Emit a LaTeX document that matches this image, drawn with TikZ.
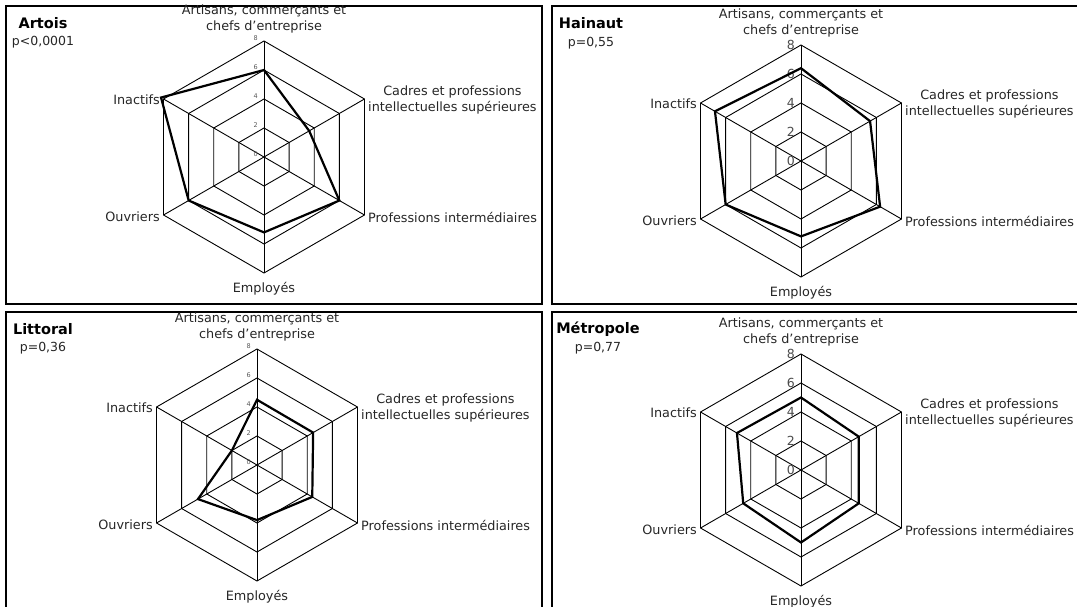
\documentclass[tikz,border=0pt]{standalone}
\usepackage{fontspec}
\setmainfont{DejaVu Sans}

% One radar chart: #1,#2 centre, #3 name prefix, #4..#9 values on the six axes
\newcommand\radarpanel[9]{%
\begin{scope}[shift={(#1,#2)}]
  \foreach \k in {29,58,87,116}
    \draw[webline] (270:\k) -- (330:\k) -- (30:\k) -- (90:\k) -- (150:\k) -- (210:\k) -- cycle;
  \coordinate (#3-o) at (0,0);
  \foreach \a/\n in {270/va,330/vb,30/vc,90/vd,150/ve,210/vf}
    \draw[webline] (#3-o) -- (\a:116) coordinate (#3-\n);
  \foreach \v/\k in {0/0,2/29,4/58,6/87,8/116}
    \node[ticknum] (#3-t\v) at (-6,-\k) {\v};
  \draw[series] (270:{14.5*#4}) -- (330:{14.5*#5}) -- (30:{14.5*#6})
    -- (90:{14.5*#7}) -- (150:{14.5*#8}) -- (210:{14.5*#9}) -- cycle;
  \node[axislabel] (#3-art) at (0,-138) {Artisans, commerçants et\\chefs d'entreprise};
  \node[axislabel,anchor=west] (#3-cad) at (104,-57) {Cadres et professions\\intellectuelles supérieures};
  \node[axislabel,anchor=west] (#3-pro) at (104,60) {Professions intermédiaires};
  \node[axislabel] (#3-emp) at (0,132) {Employés};
  \node[axislabel,anchor=east] (#3-ouv) at (-104,60) {Ouvriers};
  \node[axislabel,anchor=east] (#3-ina) at (-104,-57) {Inactifs};
\end{scope}}

\begin{document}
\begin{tikzpicture}[x=1pt,y=-1pt,
  webline/.style={line width=0.9pt,black},
  series/.style={line width=2.2pt,black,line join=miter},
  frame/.style={line width=1.4pt,black},
  axislabel/.style={font=\fontsize{12.8}{16}\selectfont,inner sep=0pt,align=center,text=black!85},
  regiontitle/.style={font=\fontsize{14.5}{18}\selectfont\bfseries,inner sep=0pt,text=black},
  pvalue/.style={font=\fontsize{12.5}{15}\selectfont,inner sep=0pt,text=black!85},
  smalltick/.style={ticknum/.style={font=\fontsize{6.5}{8}\selectfont,inner sep=0pt,anchor=east,text=black!65,yshift=2.5pt}},
  bigtick/.style={ticknum/.style={font=\fontsize{12.5}{14}\selectfont,inner sep=0pt,anchor=east,text=black!70}},
  ]
\useasboundingbox (0,0) rectangle (1077,607);
\clip (0,0) rectangle (1077,607);

% panel frames
\draw[frame] (6,6) rectangle (542,304);
\draw[frame] (552,6) rectangle (1085,304);
\draw[frame] (6,312) rectangle (542,615);
\draw[frame] (552,312) rectangle (1085,615);

% Artois
\begin{scope}[smalltick]
\radarpanel{264}{157}{ar}{6}{3.6}{6}{5.2}{6}{8.2}
\end{scope}
\node[regiontitle] (ar-name) at (43,23) {Artois};
\node[pvalue] (ar-p) at (43,42) {p<0,0001};

% Hainaut
\begin{scope}[bigtick]
\radarpanel{801}{161}{ha}{6.4}{5.5}{6.3}{5.2}{6}{6.85}
\end{scope}
\node[regiontitle] (ha-name) at (591,23) {Hainaut};
\node[pvalue] (ha-p) at (591,43) {p=0,55};

% Littoral
\begin{scope}[smalltick]
\radarpanel{257}{465}{li}{4.5}{4.47}{4.4}{3.8}{4.7}{2.0}
\end{scope}
\node[regiontitle] (li-name) at (43,329) {Littoral};
\node[pvalue] (li-p) at (43,348) {p=0,36};

% Métropole
\begin{scope}[bigtick]
\radarpanel{801}{470}{me}{5}{4.6}{4.6}{5}{4.6}{5.1}
\end{scope}
\node[regiontitle] (me-name) at (598,329) {Métropole};
\node[pvalue] (me-p) at (598,348) {p=0,77};
\end{tikzpicture}
\end{document}
